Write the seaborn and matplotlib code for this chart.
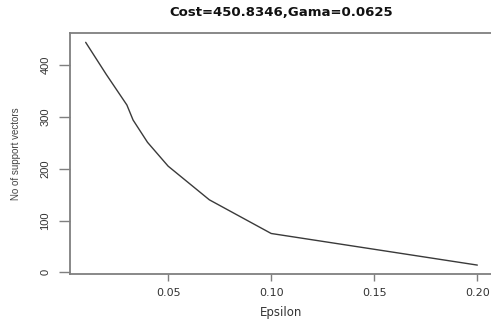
import seaborn as sns
import pandas as pd
import matplotlib.pyplot as plt

# values
epsilon = [0.01, 0.02, 0.03, 0.033, 0.04, 0.05, 0.07, 0.10, 0.20]
n_support = [444, 382, 323, 294, 251, 205, 140, 75, 14]

df = pd.DataFrame({"Epsilon": epsilon, "No of support vectors": n_support})

sns.set_style("white")
plt.rcParams['font.family'] = ['DejaVu Sans']
narrow = ['Liberation Sans', 'DejaVu Sans']

fig = plt.figure(figsize=(4.91, 3.22), dpi=100)
ax = fig.add_axes([70 / 491, 48 / 322, 423 / 491, 241 / 322])

sns.lineplot(data=df, x="Epsilon", y="No of support vectors", ax=ax,
             color="#3a3a3a", linewidth=1.0)

ax.set_xlim(0.0024, 0.2076)
ax.set_ylim(-3.2, 462)
ax.set_xticks([0.05, 0.10, 0.15, 0.20])
ax.set_xticklabels(["0.05", "0.10", "0.15", "0.20"], color="#333333", fontsize=8)
ax.set_yticks([0, 100, 200, 300, 400])
ax.set_yticklabels(["0", "100", "200", "300", "400"], rotation=90, va="center",
                   color="#333333", fontsize=8, family=narrow)

for s in ax.spines.values():
    s.set_color("#7f7f7f")
    s.set_linewidth(1.3)
ax.spines["right"].set_visible(False)

ax.tick_params(axis="x", length=5, width=1, color="#7f7f7f", pad=5, bottom=True)
ax.tick_params(axis="y", length=8, width=1, color="#7f7f7f", pad=6, left=True)

ax.set_xlabel("Epsilon", fontsize=8.5, color="#333333", labelpad=6)
ax.set_ylabel("No of support vectors", fontsize=7, color="#444444",
              family=narrow, labelpad=14)
ax.set_title("Cost=450.8346,Gama=0.0625", fontsize=9.5, fontweight="bold",
             color="#111111", pad=12)

fig.savefig("out.png", dpi=100)
